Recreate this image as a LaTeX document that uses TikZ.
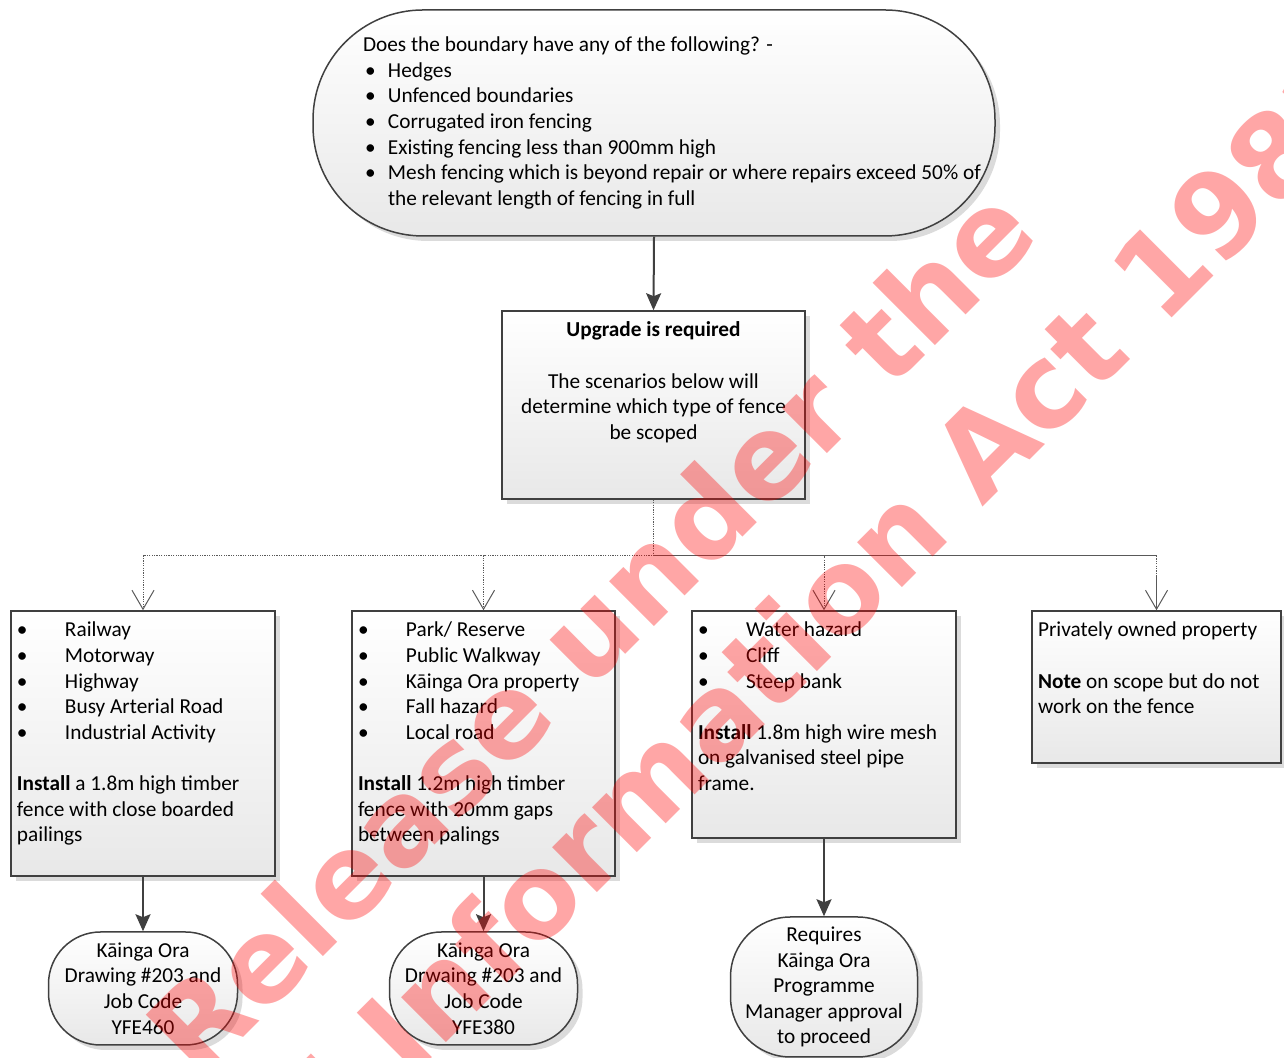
\documentclass[tikz,border=0pt]{standalone}
\usepackage{fontspec}
\setmainfont{Carlito}
\newfontfamily\markfont{DejaVu Sans}
\usepackage{tikz}
\usetikzlibrary{arrows.meta}
\usetikzlibrary{shadows}
\usetikzlibrary{calc}

\newcommand{\toptext}[3]{\parbox[c][#2][t]{#1}{\raggedright\strut#3}}

\begin{document}
\begin{tikzpicture}[x=0.5pt,y=0.5pt,
	every node/.style={font=\fontsize{10.65pt}{12.8pt}\selectfont},
	shade box/.style={draw=black!75,line width=0.75pt,top color=white,bottom color=black!9,
		drop shadow={shadow xshift=2.5pt,shadow yshift=-2.5pt,fill=black!14,opacity=1}},
	scenario/.style={shade box,shape=rectangle,inner xsep=3pt,inner ysep=4pt},
	terminal/.style={shade box,shape=rectangle,rounded corners=26pt,align=center,inner sep=0pt},
	flow/.style={draw=black!75,line width=1pt,-{Stealth[length=8.5pt,width=7.5pt,inset=1.5pt]}},
	branch/.style={draw=black!65,line width=0.5pt,dash pattern=on 0.6pt off 0.6pt,-{Straight Barb[length=9.5pt,width=11pt]}},
	trunk/.style={draw=black!65,line width=0.5pt},
	watermark/.style={font=\markfont\bfseries\fontsize{58pt}{74pt}\selectfont,text=red,text opacity=0.35,rotate=45,align=center}]
	\useasboundingbox (0,0) rectangle (1284,1058);
	\draw (654,935) node (q) [shade box,rounded corners=55pt,minimum width=341pt,minimum height=113pt,inner sep=0pt] {\parbox{341pt}{\raggedright\leftskip=25pt
		Does the boundary have any of the following? -\\
		\makebox[12.5pt][l]{\hspace{1pt}\textbullet}Hedges\\
		\makebox[12.5pt][l]{\hspace{1pt}\textbullet}Unfenced boundaries\\
		\makebox[12.5pt][l]{\hspace{1pt}\textbullet}Corrugated iron fencing\\
		\makebox[12.5pt][l]{\hspace{1pt}\textbullet}Existing fencing less than 900mm high\\
		\makebox[12.5pt][l]{\hspace{1pt}\textbullet}Mesh fencing which is beyond repair or where repairs exceed 50\% of\\
		\hspace*{12.5pt}the relevant length of fencing in full}};
	\draw (653.5,653) node (up) [scenario] {\toptext{145.5pt}{86pt}{\centering\textbf{Upgrade is required}\\[\baselineskip]The scenarios below will\\determine which type of fence\\be scoped}};
	\draw (143,314.5) node (s1) [scenario] {\toptext{126pt}{124.5pt}{\makebox[24pt][l]{\textbullet}Railway\\
		\makebox[24pt][l]{\textbullet}Motorway\\
		\makebox[24pt][l]{\textbullet}Highway\\
		\makebox[24pt][l]{\textbullet}Busy Arterial Road\\
		\makebox[24pt][l]{\textbullet}Industrial Activity\\[\baselineskip]
		\textbf{Install} a 1.8m high timber\\fence with close boarded\\pailings}};
	\draw (483.5,314.5) node (s2) [scenario] {\toptext{125.5pt}{124.5pt}{\makebox[24pt][l]{\textbullet}Park/ Reserve\\
		\makebox[24pt][l]{\textbullet}Public Walkway\\
		\makebox[24pt][l]{\textbullet}Kāinga Ora property\\
		\makebox[24pt][l]{\textbullet}Fall hazard\\
		\makebox[24pt][l]{\textbullet}Local road\\[\baselineskip]
		\textbf{Install} 1.2m high timber\\fence with 20mm gaps\\between palings}};
	\draw (824,333.5) node (s3) [scenario] {\toptext{126pt}{105.5pt}{\makebox[24pt][l]{\textbullet}Water hazard\\
		\makebox[24pt][l]{\textbullet}Cliff\\
		\makebox[24pt][l]{\textbullet}Steep bank\\[\baselineskip]
		\textbf{Install} 1.8m high wire mesh\\on galvanised steel pipe\\frame.}};
	\draw (1156.5,371) node (s4) [scenario] {\toptext{118.5pt}{68pt}{Privately owned property\\[\baselineskip]
		\textbf{Note} on scope but do not\\work on the fence}};
	\draw (143,69.5) node (r1) [terminal,minimum width=94.5pt,minimum height=56.5pt] {Kāinga Ora\\Drawing \#203 and\\Job Code\\YFE460};
	\draw (483.5,69.5) node (r2) [terminal,minimum width=94pt,minimum height=56.5pt] {Kāinga Ora\\Drwaing \#203 and\\Job Code\\YFE380};
	\draw (824,71) node (r3) [terminal,rounded corners=30pt,minimum width=93.5pt,minimum height=70pt] {Requires\\Kāinga Ora\\Programme\\Manager approval\\to proceed};
	\draw[flow] (q.south) -- (up.north);
	\coordinate (fork) at ($(up.south)+(0,-56)$);
	\foreach \i in {1,...,4} {
		\draw[branch] (up.south) -- (fork) -| (s\i.north);
	};
	\coordinate (bend) at ($(s4.north)+(0,34)$);
	\draw[trunk] (fork) -- (fork -| s4.north);
	\draw[trunk] (bend) -- (s4.north);
	\foreach \i in {1,2,3} {
		\draw[flow] (s\i.south) -- (r\i.north);
	};
	\begin{scope}
		\clip (0,0) rectangle (1284,1058);
		\draw (642,376) node (mark) [watermark] {Release under the\\Official Information Act 1982};
	\end{scope}
\end{tikzpicture}
\end{document}
